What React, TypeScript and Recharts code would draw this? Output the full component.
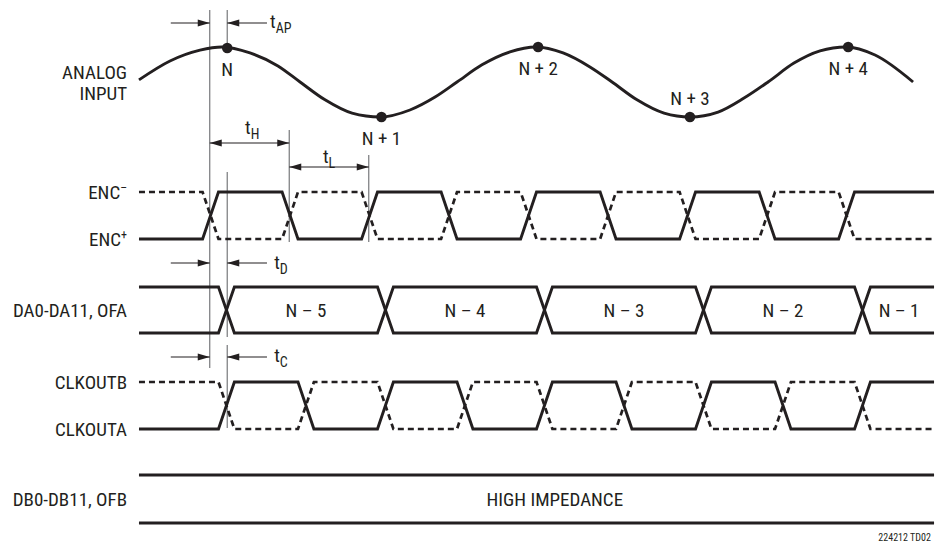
import { LineChart, Line, XAxis, YAxis, ReferenceLine, ReferenceDot } from 'recharts';

const INK = '#231f20';
const GUIDE = '#77787b';
const FONT = "'Liberation Sans Narrow', 'Arial Narrow', 'Roboto Condensed', sans-serif";

// time in tenths of a clock period (one period = 10)
const X_DOMAIN = [-8.74, 50.06];
const Y_DOMAIN = [0, 544];

// vertical layout of each row (chart units, top = 0)
const ROWS = {
  analog: { mid: 82, amp: 35 },
  enc: { hi: 192, lo: 239 },
  bus: { hi: 287, lo: 333 },
  clk: { hi: 382, lo: 429 },
  db: { hi: 475, lo: 523 },
};

const analogTimes = [0, 1.95, 3.84, 5.22, 6.98, 8.74, 10.13, 11.7, 13.4, 15.16, 17.04, 18.62, 20.0, 21.57, 23.33, 24.97, 26.67, 28.36, 29.75, 31.32, 33.02, 34.65, 36.42, 38.05, 39.56, 41.19, 42.83, 44.47, 46.29, 48.68];
const analogValues = [0.06, 0.6, 0.91, 1.0, 0.83, 0.46, 0, -0.51, -0.89, -1.0, -0.8, -0.43, 0, 0.49, 0.86, 1.0, 0.83, 0.43, 0, -0.51, -0.89, -1.0, -0.86, -0.46, 0, 0.54, 0.89, 1.0, 0.77, 0];

const sampleNames = ['N', 'N + 1', 'N + 2', 'N + 3', 'N + 4'];
const sampleTimes = [5.55, 15.25, 25.1, 34.65, 44.6];
const sampleValues = [0.97, -1, 1, -1, 1];
const sampleLabelAbove = [false, false, false, true, false];

const encTimes = [0, 4, 5, 9, 10, 14, 15, 19, 20, 24, 25, 29, 30, 34, 35, 39, 40, 44, 45, 50];
const clkTimes = [0, 5, 6, 10, 11, 15, 16, 20, 21, 25, 26, 30, 31, 35, 36, 40, 41, 45, 46, 50];
const clkLevels = [0, 0, 1, 1, 0, 0, 1, 1, 0, 0, 1, 1, 0, 0, 1, 1, 0, 0, 1, 1];

const busTimes = [0, 5, 6, 15, 16, 25, 26, 35, 36, 45, 46, 50];
const busLevels = [1, 1, 0, 0, 1, 1, 0, 0, 1, 1, 0, 0];
const busWords = ['N – 5', 'N – 4', 'N – 3', 'N – 2', 'N – 1'];
const busWordTimes = [10.5, 20.5, 30.5, 40.5, 47.8];

const dbTimes = [0, 50];

// guide lines: time, then [top, bottom] spans
const guideTimes = [4.45, 5.55, 9.45, 14.45];
const guideSpans = [
  [[10, 368]],
  [[10, 43], [172, 337], [345, 428]],
  [[130, 242]],
  [[155, 242]],
];

const toRow = (row: { hi: number; lo: number }, level: number) => row.lo + (row.hi - row.lo) * level;

const wave = (times: number[], levels: number[], row: { hi: number; lo: number }) =>
  times.map((t, i) => ({ t, y: toRow(row, levels[i]) }));

const analogData = analogTimes.map((t, i) => ({ t, y: ROWS.analog.mid - ROWS.analog.amp * analogValues[i] }));

const Arrow = (props: any) => {
  const { x1, y1, x2, y2, both } = props;
  const dir = x2 > x1 ? 1 : -1;
  const L = 12;
  const W = 3.6;
  const head = (x: number, d: number) => (
    <polygon points={`${x},${y2} ${x - d * L},${y2 - W} ${x - d * L},${y2 + W}`} fill={INK} />
  );
  return (
    <g>
      <line x1={x1} y1={y1} x2={x2} y2={y2} stroke={INK} strokeWidth={1.2} />
      {head(x2, dir)}
      {both ? head(x1, -dir) : null}
    </g>
  );
};

const arrow = (key: string, t1: number, t2: number, y: number, both = false) => (
  <ReferenceLine
    key={key}
    segment={[{ x: t1, y }, { x: t2, y }]}
    stroke={INK}
    ifOverflow="visible"
    shape={(p: any) => <Arrow {...p} both={both} />}
  />
);

const text = (key: string, t: number, y: number, content: any, anchor = 'middle', size = 19) => (
  <ReferenceDot
    key={key}
    x={t}
    y={y}
    r={0}
    ifOverflow="visible"
    shape={(p: any) => (
      <text x={p.cx} y={p.cy} textAnchor={anchor} fontFamily={FONT} fontSize={size} fill={INK}>
        {content}
      </text>
    )}
  />
);

const tLabel = (key: string, t: number, y: number, sub: string) =>
  text(
    key,
    t,
    y,
    <>
      t<tspan dy={5} fontSize={14}>{sub}</tspan>
    </>,
    'start',
  );

const LABEL_T = -0.75;

const lineProps = {
  dataKey: 'y',
  type: 'linear' as const,
  stroke: INK,
  strokeWidth: 2.9,
  dot: false,
  activeDot: false,
  legendType: 'none' as const,
  isAnimationActive: false,
};
const dashedProps = { ...lineProps, strokeWidth: 2.7, strokeDasharray: '6 4' };

export default function App() {
  return (
    <div style={{ position: 'absolute', left: 0, top: 0, background: '#fff' }}>
      <LineChart width={935} height={544} margin={{ top: 0, right: 0, bottom: 0, left: 0 }}>
        <XAxis type="number" dataKey="t" domain={X_DOMAIN} hide allowDataOverflow />
        <YAxis type="number" domain={Y_DOMAIN} reversed hide allowDataOverflow />

        {guideTimes.map((t, i) =>
          guideSpans[i].map((s, j) => (
            <ReferenceLine
              key={`g${i}-${j}`}
              segment={[{ x: t, y: s[0] }, { x: t, y: s[1] }]}
              stroke={GUIDE}
              strokeWidth={1.2}
              ifOverflow="visible"
            />
          )),
        )}

        <Line {...lineProps} data={analogData} type="monotone" />

        <Line {...dashedProps} data={wave(encTimes, clkLevels.map((v) => 1 - v), ROWS.enc)} />
        <Line {...lineProps} data={wave(encTimes, clkLevels, ROWS.enc)} />

        <Line {...lineProps} data={wave(busTimes, busLevels, ROWS.bus)} />
        <Line {...lineProps} data={wave(busTimes, busLevels.map((v) => 1 - v), ROWS.bus)} />

        <Line {...dashedProps} data={wave(clkTimes, clkLevels.map((v) => 1 - v), ROWS.clk)} />
        <Line {...lineProps} data={wave(clkTimes, clkLevels, ROWS.clk)} />

        <Line {...lineProps} data={wave(dbTimes, [1, 1], ROWS.db)} />
        <Line {...lineProps} data={wave(dbTimes, [0, 0], ROWS.db)} />

        {sampleTimes.map((t, i) => (
          <ReferenceDot
            key={`s${i}`}
            x={t}
            y={ROWS.analog.mid - ROWS.analog.amp * sampleValues[i]}
            r={5.3}
            fill={INK}
            stroke="none"
            ifOverflow="visible"
          />
        ))}
        {sampleTimes.map((t, i) =>
          text(
            `sl${i}`,
            t,
            ROWS.analog.mid - ROWS.analog.amp * sampleValues[i] + (sampleLabelAbove[i] ? -12.5 : 27.5),
            sampleNames[i],
          ),
        )}

        {busWords.map((w, i) => text(`w${i}`, busWordTimes[i], (ROWS.bus.hi + ROWS.bus.lo) / 2 + 7, w))}
        {text('hiz', 26.15, (ROWS.db.hi + ROWS.db.lo) / 2 + 7, 'HIGH IMPEDANCE')}

        {text('l1', LABEL_T, 79, 'ANALOG', 'end')}
        {text('l2', LABEL_T, 100, 'INPUT', 'end')}
        {text('l3', LABEL_T, ROWS.enc.hi + 7, <>ENC<tspan dy={-7} fontSize={12}>–</tspan></>, 'end')}
        {text('l4', LABEL_T, ROWS.enc.lo + 7, <>ENC<tspan dy={-7} fontSize={12}>+</tspan></>, 'end')}
        {text('l5', LABEL_T, (ROWS.bus.hi + ROWS.bus.lo) / 2 + 7, 'DA0-DA11, OFA', 'end')}
        {text('l6', LABEL_T, ROWS.clk.hi + 7, 'CLKOUTB', 'end')}
        {text('l7', LABEL_T, ROWS.clk.lo + 7, 'CLKOUTA', 'end')}
        {text('l8', LABEL_T, (ROWS.db.hi + ROWS.db.lo) / 2 + 7, 'DB0-DB11, OFB', 'end')}
        {text('fig', 49.8, 541, '224212 TD02', 'end', 10)}

        {arrow('ap1', 2.0, 4.45, 23)}
        {arrow('ap2', 8.05, 5.55, 23)}
        {tLabel('tap', 8.24, 28, 'AP')}

        {arrow('h', 4.45, 9.45, 143, true)}
        {tLabel('th', 6.67, 134, 'H')}
        {arrow('l', 9.45, 14.45, 167, true)}
        {tLabel('tl', 11.57, 163, 'L')}

        {arrow('d1', 2.0, 4.45, 263)}
        {arrow('d2', 8.05, 5.55, 263)}
        {tLabel('td', 8.5, 269, 'D')}

        {arrow('c1', 2.0, 4.45, 357)}
        {arrow('c2', 8.05, 5.55, 357)}
        {tLabel('tc', 8.5, 362, 'C')}
      </LineChart>
    </div>
  );
}
